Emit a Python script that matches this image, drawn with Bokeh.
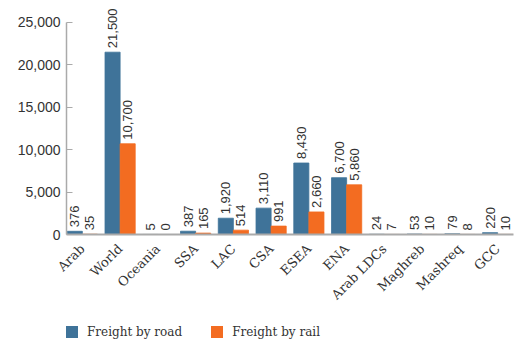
import math
from bokeh.plotting import figure
from bokeh.layouts import column
from bokeh.models import ColumnDataSource, FixedTicker, Legend, LegendItem, NumeralTickFormatter
from bokeh.core.properties import value
from bokeh.embed import file_html
from bokeh.resources import INLINE

categories = ["Arab", "World", "Oceania", "SSA", "LAC", "CSA", "ESEA", "ENA",
              "Arab LDCs", "Maghreb", "Mashreq", "GCC"]
road = [376, 21500, 5, 387, 1920, 3110, 8430, 6700, 24, 53, 79, 220]
rail = [35, 10700, 0, 165, 514, 991, 2660, 5860, 7, 10, 8, 10]
series_names = ["Freight by road", "Freight by rail"]
y_ticks = [0, 5000, 10000, 15000, 20000, 25000]

BLUE = "#3f7399"
ORANGE = "#f36c21"

idx = list(range(len(categories)))
src = ColumnDataSource(dict(
    idx=idx,
    xr=[i - 0.2 for i in idx],
    xl=[i + 0.2 for i in idx],
    road=road, rail=rail,
    road_lbl=[f"{v:,}" for v in road],
    rail_lbl=[f"{v:,}" for v in rail],
    road_lc=[BLUE if v > 0 else None for v in road],
    rail_lc=[ORANGE if v > 0 else None for v in rail],
))

p = figure(width=526, height=310, output_backend="svg", toolbar_location=None,
           x_range=(-0.42, 11.42), y_range=(0, 27594),
           min_border_left=66, min_border_right=13, min_border_top=0, min_border_bottom=76)

r1 = p.vbar(x="xr", top="road", width=0.4, source=src, fill_color=BLUE,
            line_color="road_lc", line_width=0.8)
r2 = p.vbar(x="xl", top="rail", width=0.4, source=src, fill_color=ORANGE,
            line_color="rail_lc", line_width=0.8)

for xcol, lcol, ycol in (("xr", "road_lbl", "road"), ("xl", "rail_lbl", "rail")):
    p.text(x=xcol, y=ycol, text=lcol, source=src, angle=math.pi / 2,
           text_align="left", text_baseline="middle", y_offset=-4,
           text_font=value("Liberation Sans"), text_font_size="13px", text_color="#333333")

p.grid.visible = False
p.outline_line_color = None
p.background_fill_color = "white"
p.border_fill_color = "white"

p.yaxis.bounds = (0, 25000)
p.yaxis.ticker = FixedTicker(ticks=y_ticks)
p.yaxis.formatter = NumeralTickFormatter(format="0,0")
p.yaxis.major_label_text_font = "Liberation Sans"
p.yaxis.major_label_text_font_size = "14px"
p.yaxis.major_label_text_color = "#333333"
p.yaxis.axis_line_color = "#aaaaaa"
p.yaxis.axis_line_width = 1.5
p.yaxis.major_tick_line_color = "#aaaaaa"
p.yaxis.major_tick_in = 6
p.yaxis.major_tick_out = 0
p.yaxis.minor_tick_line_color = None
p.yaxis.major_label_standoff = 6

p.xaxis.ticker = FixedTicker(ticks=idx)
p.xaxis.major_label_overrides = {i: c for i, c in zip(idx, categories)}
p.xaxis.major_label_orientation = math.pi / 4
p.xaxis.major_label_text_font = "DejaVu Serif"
p.xaxis.major_label_text_font_size = "13px"
p.xaxis.major_label_text_color = "#333333"
p.xaxis.axis_line_color = "#aaaaaa"
p.xaxis.axis_line_width = 2
p.xaxis.major_tick_line_color = None
p.xaxis.minor_tick_line_color = None
p.xaxis.major_label_standoff = 6

# legend strip below the chart (its legend-only bars have zero width, nothing drawn)
lg = figure(width=526, height=37, output_backend="svg", toolbar_location=None,
            x_range=(-0.42, 11.42), y_range=(-2, -1), min_border=0)
lg.axis.visible = False
lg.grid.visible = False
lg.outline_line_color = None
lr1 = lg.vbar(x="xr", top="road", width=0, source=src, fill_color=BLUE, line_color=None)
lr2 = lg.vbar(x="xl", top="rail", width=0, source=src, fill_color=ORANGE, line_color=None)
legend = Legend(items=[LegendItem(label=series_names[0], renderers=[lr1]),
                       LegendItem(label=series_names[1], renderers=[lr2])],
                orientation="horizontal", location=(-2, 8),
                padding=0, margin=0, spacing=27, label_standoff=8,
                glyph_width=15, glyph_height=15,
                label_text_font="DejaVu Serif", label_text_font_size="12px",
                label_text_color="#333333", border_line_color=None,
                background_fill_alpha=0)
lg.add_layout(legend, "center")

layout = column(p, lg, spacing=0)
open("out.html", "w").write(file_html(layout, INLINE))
